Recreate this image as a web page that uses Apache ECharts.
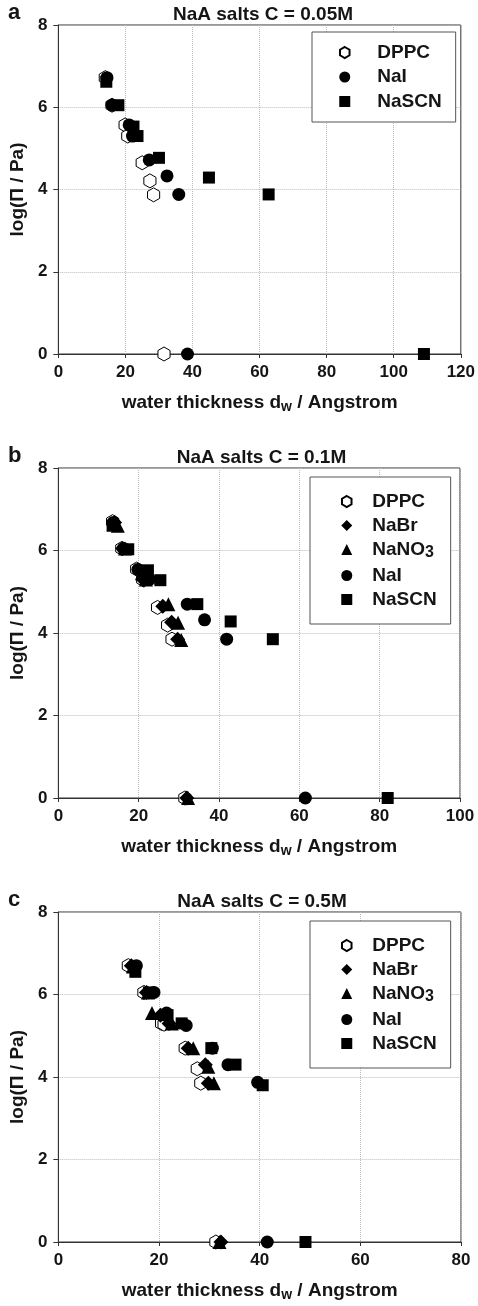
<!DOCTYPE html>
<html>
<head>
<meta charset="utf-8">
<script src="https://cdn.jsdelivr.net/npm/echarts@6/dist/echarts.min.js"></script>
<style>html,body{margin:0;padding:0;background:#fff;}#chart{width:478px;height:1306px;}</style>
</head>
<body>
<div id="chart"></div>
<script>
// ---- Data ----
const panelLetters = ['a', 'b', 'c'];
const panelTitles = ['NaA salts C = 0.05M', 'NaA salts C = 0.1M', 'NaA salts C = 0.5M'];
const xMaxes = [120, 100, 80];
const yTicks = [0, 2, 4, 6, 8];
const xAxisName = 'water thickness d{sub|w} / Angstrom';
const yAxisName = 'log(\u03A0 / Pa)';

// Panel a: C = 0.05M  [d_w (Å), log(Π/Pa)]
const a_DPPC  = [[14.0,6.72],[16.0,6.05],[19.9,5.57],[20.7,5.30],[25.0,4.65],[27.3,4.21],[28.4,3.87],[31.5,0]];
const a_NaI   = [[14.5,6.72],[16.0,6.05],[21.1,5.57],[22.1,5.30],[27.1,4.72],[32.4,4.33],[35.9,3.88],[38.5,0]];
const a_NaSCN = [[14.3,6.62],[17.9,6.05],[22.4,5.53],[23.6,5.30],[30.0,4.77],[44.9,4.29],[62.7,3.88],[109.0,0]];

// Panel b: C = 0.1M
const b_DPPC  = [[13.5,6.70],[15.8,6.05],[19.5,5.55],[21.0,5.30],[24.7,4.62],[27.2,4.19],[28.3,3.85],[31.5,0]];
const b_NaBr  = [[14.0,6.68],[16.0,6.05],[20.5,5.50],[21.3,5.28],[26.0,4.65],[28.2,4.26],[29.7,3.85],[32.0,0]];
const b_NaNO3 = [[14.8,6.60],[16.6,6.05],[20.8,5.45],[21.8,5.30],[27.4,4.70],[29.8,4.25],[30.6,3.83],[32.3,0]];
const b_NaI   = [[13.7,6.68],[16.2,6.05],[19.8,5.54],[22.7,5.30],[32.1,4.70],[36.4,4.32],[41.9,3.85],[61.5,0]];
const b_NaSCN = [[13.5,6.60],[17.4,6.03],[22.3,5.52],[25.4,5.28],[34.6,4.70],[42.9,4.28],[53.4,3.85],[82.0,0]];

// Panel c: C = 0.5M
const c_DPPC  = [[13.9,6.70],[17.0,6.05],[20.5,5.30],[21.0,5.28],[25.2,4.70],[27.6,4.20],[28.3,3.85],[31.3,0]];
const c_NaBr  = [[14.5,6.70],[17.5,6.05],[20.3,5.50],[22.0,5.30],[25.8,4.70],[29.2,4.30],[29.8,3.85],[32.3,0]];
const c_NaNO3 = [[14.8,6.68],[17.8,6.05],[18.6,5.55],[22.5,5.30],[26.8,4.70],[29.8,4.25],[30.9,3.85],[32.0,0]];
const c_NaI   = [[15.5,6.70],[19.0,6.05],[21.5,5.55],[25.4,5.25],[30.6,4.70],[33.7,4.30],[39.6,3.87],[41.5,0]];
const c_NaSCN = [[15.3,6.55],[18.0,6.05],[21.7,5.50],[24.5,5.30],[30.4,4.70],[35.2,4.30],[40.6,3.80],[49.1,0]];

const panelSeries = [
  {DPPC: a_DPPC, NaSCN: a_NaSCN, NaI: a_NaI},
  {DPPC: b_DPPC, NaSCN: b_NaSCN, NaBr: b_NaBr, NaNO3: b_NaNO3, NaI: b_NaI},
  {DPPC: c_DPPC, NaSCN: c_NaSCN, NaBr: c_NaBr, NaNO3: c_NaNO3, NaI: c_NaI}
];
const legendOrders = [
  ['DPPC', 'NaI', 'NaSCN'],
  ['DPPC', 'NaBr', 'NaNO3', 'NaI', 'NaSCN'],
  ['DPPC', 'NaBr', 'NaNO3', 'NaI', 'NaSCN']
];

// ---- Styles ----
const FONT = '"Liberation Sans", Arial, Helvetica, sans-serif';
const TXT = '#151515';
const HEX = 'path://M0,-10 L8.66,-5 L8.66,5 L0,10 L-8.66,5 L-8.66,-5 Z';
const markerStyle = {
  DPPC:  {symbol: HEX, symbolSize: 14, itemStyle: {color: '#fff', borderColor: '#000', borderWidth: 1, opacity: 1}},
  NaBr:  {symbol: 'diamond', symbolSize: 15, itemStyle: {color: '#000', opacity: 1}},
  NaNO3: {symbol: 'triangle', symbolSize: 14, itemStyle: {color: '#000', opacity: 1}},
  NaI:   {symbol: 'circle', symbolSize: 13, itemStyle: {color: '#000', opacity: 1}},
  NaSCN: {symbol: 'rect', symbolSize: 12, itemStyle: {color: '#000', opacity: 1}}
};

const grids = [
  {left: 54, right: 16, top: 25, height: 329},
  {left: 53, right: 18, top: 468, height: 330},
  {left: 53, right: 17, top: 912, height: 330}
];
const legendBoxes = [
  {left: 312, top: 32, padding: [11, 14, 11, 27], itemGap: 5.5, gap: 22},
  {left: 310, top: 477, padding: [15, 14, 15, 31], itemGap: 5, gap: 15},
  {left: 310, top: 921, padding: [15, 14, 15, 31], itemGap: 5, gap: 15}
];

const subRich = {
  sub: {fontSize: 14, fontWeight: 'bold', fontFamily: FONT, color: TXT, verticalAlign: 'bottom', padding: [9, 0, 0, 0]}
};

const option = {
  animation: false,
  backgroundColor: '#fff',
  title: [],
  grid: [],
  xAxis: [],
  yAxis: [],
  legend: [],
  series: []
};

for (let i = 0; i < 3; i++) {
  const g = grids[i];
  option.grid.push(Object.assign({show: true, borderColor: '#333', borderWidth: 1, backgroundColor: '#fff'}, g));
  option.title.push({
    text: panelTitles[i], left: g.left + (478 - g.left - g.right) / 2, textAlign: 'center', top: g.top - 25,
    textStyle: {fontSize: 19, fontWeight: 'bold', fontFamily: FONT, color: TXT}
  });
  option.title.push({
    text: panelLetters[i], left: 3, top: g.top - 28,
    textStyle: {fontSize: 22, fontWeight: 'bold', fontFamily: FONT, color: TXT}
  });
  option.xAxis.push({
    gridIndex: i, type: 'value', min: 0, max: xMaxes[i], interval: 20,
    axisLine: {show: true, onZero: false, lineStyle: {color: '#333', width: 1}},
    axisTick: {show: true, inside: false, length: 4, lineStyle: {color: '#333'}},
    axisLabel: {fontSize: 17, fontWeight: 'bold', fontFamily: FONT, color: TXT, margin: 10},
    splitLine: {show: true, lineStyle: {type: 'dotted', color: '#bbb', width: 1}},
    name: xAxisName, nameLocation: 'middle', nameGap: 37,
    nameTextStyle: {fontSize: 19, fontWeight: 'bold', fontFamily: FONT, color: TXT, rich: subRich}
  });
  option.yAxis.push({
    gridIndex: i, type: 'value', min: yTicks[0], max: yTicks[yTicks.length - 1], interval: 2,
    axisLine: {show: true, onZero: false, lineStyle: {color: '#333', width: 1}},
    axisTick: {show: true, inside: false, length: 5, lineStyle: {color: '#333'}},
    axisLabel: {fontSize: 17, fontWeight: 'bold', fontFamily: FONT, color: TXT, margin: 11},
    splitLine: {show: true, lineStyle: {type: 'dotted', color: '#bbb', width: 1}},
    name: yAxisName, nameLocation: 'middle', nameGap: 17, nameRotate: 90,
    nameTextStyle: {fontSize: 19, fontWeight: 'bold', fontFamily: FONT, color: TXT}
  });
  const lb = legendBoxes[i];
  option.legend.push({
    orient: 'vertical', left: lb.left, top: lb.top, padding: lb.padding,
    itemWidth: 11, itemHeight: 11, itemGap: lb.itemGap,
    borderColor: '#555', borderWidth: 1, backgroundColor: '#fff', selectedMode: false,
    data: legendOrders[i],
    formatter: function (name) { return '{gap|}' + (name === 'NaNO3' ? 'NaNO{sub|3}' : name); },
    textStyle: {fontSize: 19, fontWeight: 'bold', fontFamily: FONT, color: TXT,
      rich: {
        gap: {width: lb.gap},
        sub: {fontSize: 16, fontWeight: 'bold', fontFamily: FONT, color: TXT, verticalAlign: 'bottom', padding: [7, 0, 0, 0]}
      }}
  });
  const ps = panelSeries[i];
  Object.keys(ps).forEach(function (name) {
    const m = markerStyle[name];
    option.series.push({
      type: 'scatter', name: name, xAxisIndex: i, yAxisIndex: i,
      symbol: m.symbol, symbolSize: m.symbolSize, symbolKeepAspect: true,
      itemStyle: m.itemStyle, data: ps[name], clip: false, z: 3
    });
  });
}

const chart = echarts.init(document.getElementById('chart'), null, {renderer: 'canvas'});
chart.setOption(option);
</script>
</body>
</html>
